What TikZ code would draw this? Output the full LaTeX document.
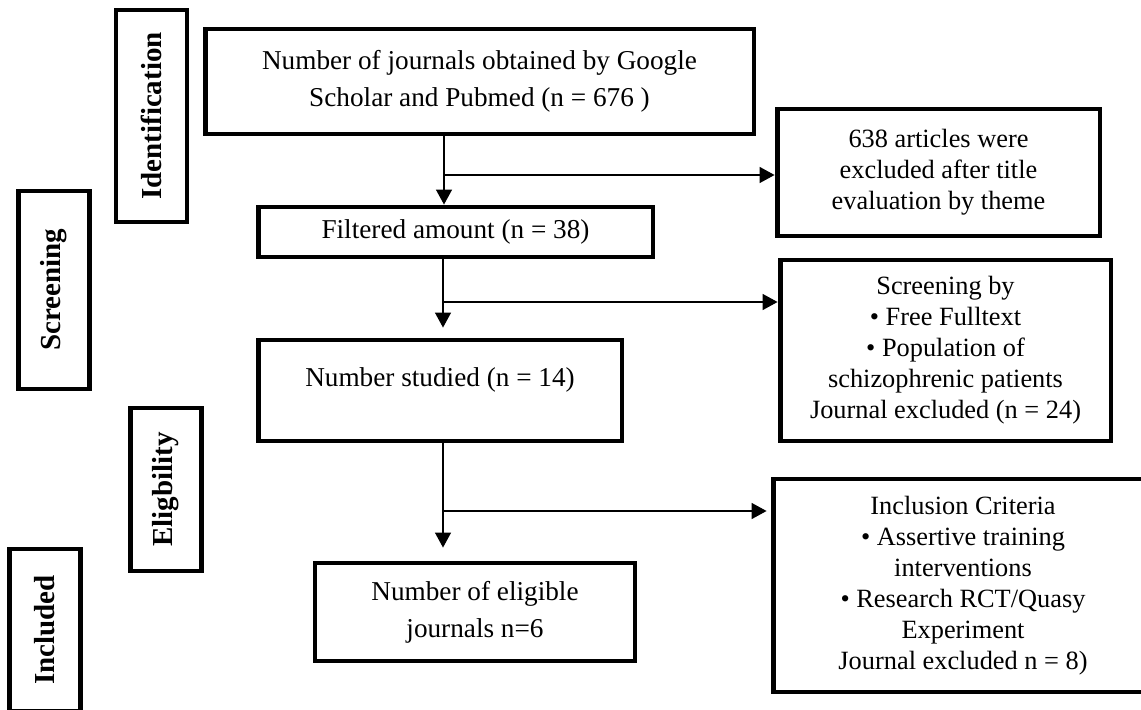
\documentclass[tikz,border=0pt]{standalone}
\usepackage{fontspec}
\setmainfont{Liberation Serif}
\usetikzlibrary{arrows.meta}

\begin{document}
\begin{tikzpicture}[x=0.02cm, y=-0.02cm,
    arrowstyle/.style={draw, line width=0.8pt, -{Triangle[length=0.3cm, width=0.32cm]}},
    flowbox/.style={rectangle, draw, line width=2.8pt, align=center, inner sep=2pt,
        font=\fontsize{15.5}{21}\selectfont},
    excludebox/.style={rectangle, draw, line width=2.8pt, align=center, inner sep=2pt,
        font=\fontsize{15}{17.6}\selectfont},
    phase/.style={rectangle, draw, line width=2.8pt, rotate=90, inner sep=0pt,
        minimum height=1.42cm, font=\fontsize{16.5}{19}\selectfont\bfseries}
]
\useasboundingbox (0,0) rectangle (1141,709);
\clip (0,0) rectangle (1141,709);

\node (Identification) [phase, minimum width=4.24cm] at (151.5,116) {Identification};
\node (Screening) [phase, minimum width=3.96cm] at (54,290) {Screening};
\node (Eligibility) [phase, minimum width=3.26cm] at (166,489.5) {Eligbility};
\node (Included) [phase, minimum width=3.24cm] at (45,630) {Included};

\node (Found) [flowbox, minimum width=10.98cm, minimum height=2.1cm] at (479.5,81.5)
  {Number of journals obtained by Google\\Scholar and Pubmed (n = 676 )};
\node (Filtered) [flowbox, minimum width=7.9cm, minimum height=1.0cm] at (455.5,232)
  {Filtered amount (n = 38)};
\node (Studied) [flowbox, minimum width=7.28cm, minimum height=2.02cm] at (440,390.5)
  {Number studied (n = 14)\\[-6pt]~};
\node (Eligible) [flowbox, minimum width=6.4cm, minimum height=1.96cm] at (475,612)
  {Number of eligible\\journals n=6};

\node (Excluded01) [excludebox, minimum width=6.46cm, minimum height=2.54cm] at (938.5,172.5)
  {638 articles were\\excluded after title\\evaluation by theme};
\node (Excluded02) [excludebox, minimum width=6.62cm, minimum height=3.62cm] at (945.5,350.5)
  {Screening by\\\textbullet{} Free Fulltext\\\textbullet{} Population of\\schizophrenic patients\\Journal excluded (n = 24)};
\node (Excluded03) [excludebox, minimum width=7.6cm, minimum height=4.26cm] at (963,585.5)
  {Inclusion Criteria\\\textbullet{} Assertive training\\interventions\\\textbullet{} Research RCT/Quasy\\Experiment\\Journal excluded n = 8)};

\coordinate (Trunk01) at (444,0);
\coordinate (Trunk02) at (443,0);
\coordinate (Branch01) at (444,175);
\coordinate (Branch02) at (443,302);
\coordinate (Branch03) at (443,511);

\draw[arrowstyle] (Found.south -| Trunk01) -- (Filtered.north -| Trunk01);
\draw[arrowstyle, shorten >=0.2cm] (Filtered.south -| Trunk02) -- (Studied.north -| Trunk02);
\draw[arrowstyle, shorten >=0.26cm] (Studied.south -| Trunk02) -- (Eligible.north -| Trunk02);

\draw[arrowstyle] (Branch01) -- (Branch01 -| Excluded01.west);
\draw[arrowstyle] (Branch02) -- (Branch02 -| Excluded02.west);
\draw[arrowstyle, shorten >=0.08cm] (Branch03) -- (Branch03 -| Excluded03.west);
\end{tikzpicture}
\end{document}
